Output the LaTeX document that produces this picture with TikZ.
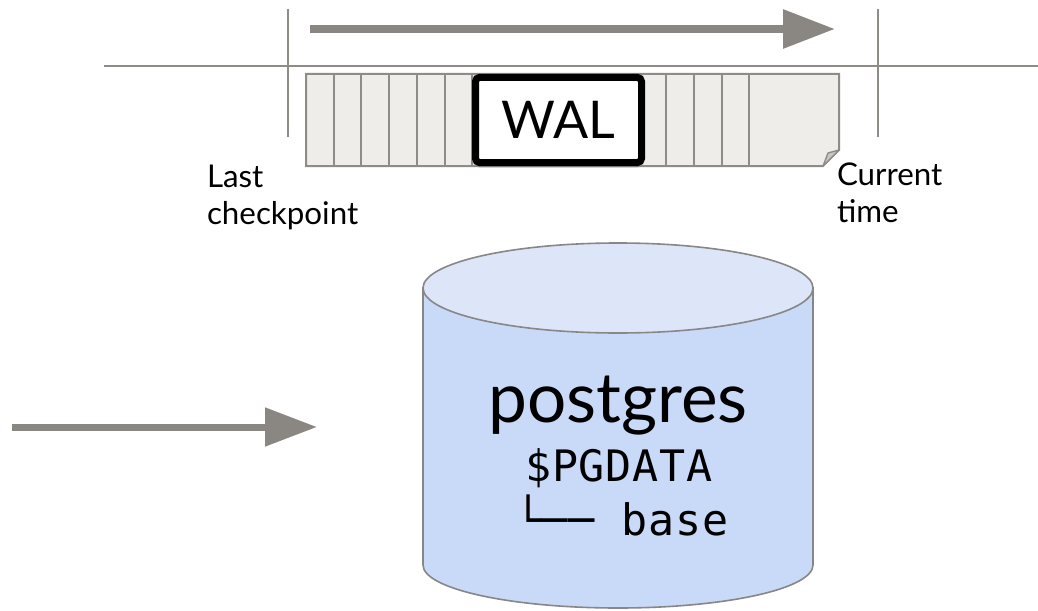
\documentclass[tikz,border=0pt]{standalone}
\usepackage{fontspec}
\setmainfont{Lato}
\newfontfamily\pgmono[LetterSpace=2]{DejaVu Sans Mono}
\usetikzlibrary{arrows.meta,shadows}
\definecolor{lineColor}{RGB}{143,139,135}
\definecolor{arrowColor}{RGB}{138,135,130}
\definecolor{cellColor}{RGB}{238,237,233}
\definecolor{foldColor}{RGB}{200,198,194}
\definecolor{dbColor}{RGB}{201,218,248}
\definecolor{dbTopColor}{RGB}{221,230,248}
\definecolor{dbLineColor}{RGB}{135,135,135}
\tikzset{
  timeline/.style={draw=lineColor,line width=1.5pt},
  flow/.style={draw=arrowColor,line width=6pt,-{Triangle[length=39pt,width=28pt]}},
  tslabel/.style={anchor=north west,inner sep=0pt,outer sep=0pt,align=left,
    font=\fontsize{23.5}{27.75}\selectfont},
  pgtext/.style={anchor=base,inner sep=0pt,outer sep=0pt},
}
\begin{document}
\begin{tikzpicture}[x=0.75pt,y=-0.75pt]
\path[use as bounding box,fill=white] (0,0) rectangle (1038,610);

\coordinate (flowstart) at (310,29);
\coordinate (flowend) at (835,29);
\coordinate (instart) at (12,427);
\coordinate (inend) at (317,427);

\path[timeline] (104,66) -- (1038,66);
\path[timeline] (288,9) -- (288,137);
\path[timeline] (878,9) -- (878,137);
\path[flow] (flowstart) -- (flowend);

\path[draw=lineColor,line width=1.5pt,fill=cellColor] (306,74) -- (839,74) --
	(839,150) -- (823,166) -- (306,166) -- cycle;
\foreach \i in {1,...,16}
  \path[draw=lineColor,line width=1.5pt] (306+27.7*\i,74) -- (306+27.7*\i,166);
\path[draw=lineColor,line width=1pt,fill=foldColor,line join=round] (839,150) --
	(828,153) -- (823,166) -- cycle;

\node[draw=black,line width=5.25pt,rounded corners=3pt,fill=white,inner sep=0pt,
  minimum width=124.5pt,minimum height=63.75pt,
  drop shadow={shadow xshift=0pt,shadow yshift=-4pt,opacity=0.25},
  font=\fontsize{39}{44}\selectfont] (wal) at (558.5,120) {WAL};

\node[tslabel] (lastcp) at (207,165) {Last\\checkpoint};
\node[tslabel] (now) at (837,163) {Current\\time};

\path[draw=dbLineColor,line width=1.2pt,fill=dbColor] (423,288) -- (423,565)
	arc[start angle=180,end angle=360,x radius=146.25pt,y radius=32.25pt] --
	(813,288) -- cycle;
\path[draw=dbLineColor,line width=1.2pt,fill=dbTopColor] (618,288)
	ellipse[x radius=146.25pt,y radius=33.75pt];

\node[pgtext,font=\fontsize{52}{60}\selectfont] (pgname) at (618,422) {postgres};
\node[pgtext,font=\pgmono\fontsize{32.5}{38}\selectfont] (pgdata) at (619,481) {\$PGDATA};
\node[pgtext,font=\pgmono\fontsize{32.5}{38}\selectfont] (pgbase) at (622,535) {└── base};

\path[flow,line width=5.25pt] (instart) -- (inend);
\end{tikzpicture}
\end{document}
